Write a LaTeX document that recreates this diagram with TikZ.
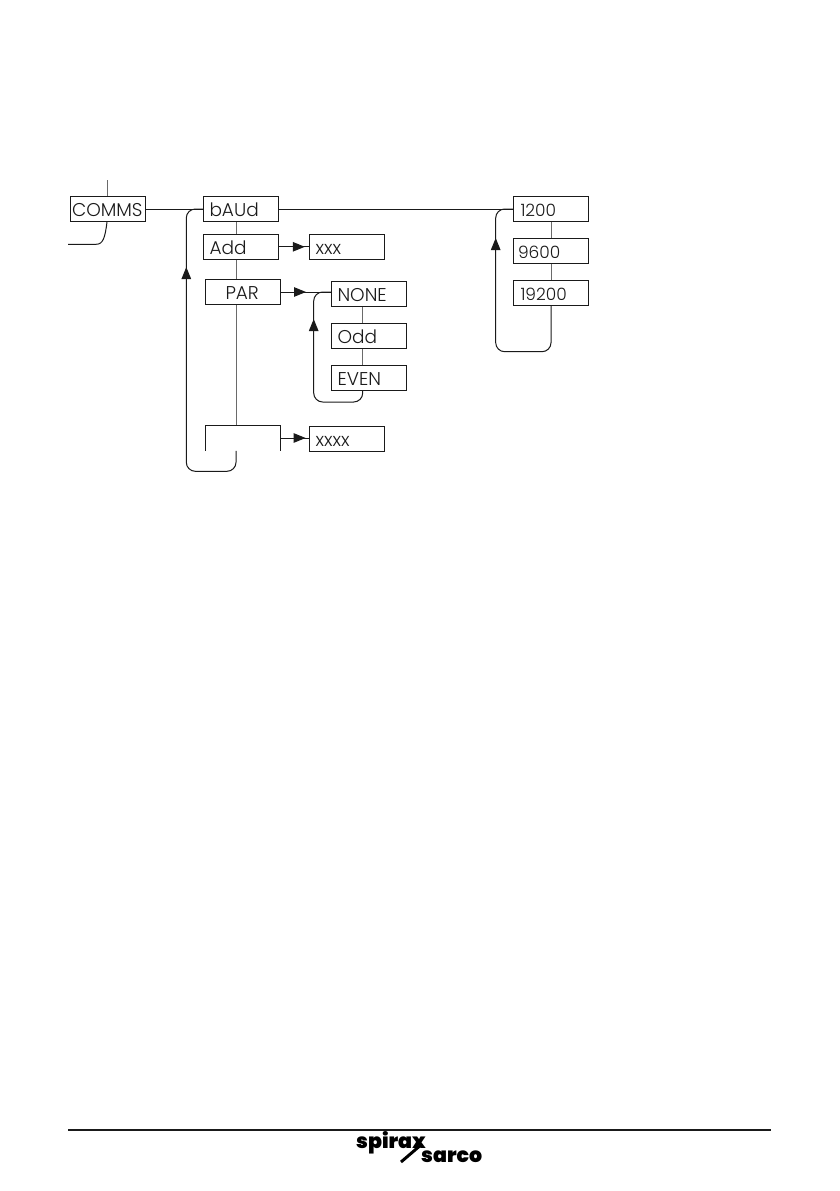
\documentclass[tikz,border=0pt]{standalone}
\usepackage{fontspec}
\setmainfont{Poppins}[UprightFont=* Light,BoldFont=* Black]
\usetikzlibrary{arrows.meta,decorations.markings}
\definecolor{ink}{HTML}{1A1A1A}
\newcommand{\digits}{\fontsize{17}{18}\selectfont}
\begin{document}
\begin{tikzpicture}[x=1pt, y=-1pt, font=\fontsize{18.5}{20}\selectfont, text=ink,
  box/.style={draw=ink, line width=1pt, minimum height=25pt, text width={75pt-2*#1}, inner xsep=#1,
              inner ysep=0pt, text height=15pt, text depth=0pt, align=left},
  box/.default=6pt,
  wire/.style={draw=ink, line width=1pt},
  link/.style={draw=ink!65, line width=1pt},
  loopback/.style={wire, rounded corners=9pt},
  tip/.style={postaction={decorate}, decoration={markings,
              mark=at position #1 with {\arrow{Triangle[length=12pt,width=9.5pt]}}}}]
\useasboundingbox (0,0) rectangle (839,1191);
% -- first column
\node[box=1.5pt] (comms) at (108,209) {COMMS};
\node[box] (baud) at (241,209) {bAUd};
\node[box] (add) at (241,246.8) {Add};
\node[box=20pt] (par) at (243,292) {PAR};
\node[minimum width=75.4pt, minimum height=25.4pt, inner sep=0pt] (blank) at (243,438) {};
\draw[wire] (blank.south west) |- (blank.north east) -- (blank.south east);
% -- values
\node[box] (xxx) at (347,246.8) {xxx};
\node[box] (xxxx) at (347,438.8) {xxxx};
\node[box] (none) at (369,294) {NONE};
\node[box] (odd) at (369,336) {Odd};
\node[box] (even) at (369,377.8) {EVEN};
\node[box=7pt, font=\digits] (b1200) at (551,209) {1200};
\node[box=4.5pt, font=\digits] (b9600) at (551,250.8) {9600};
\node[box=7pt, font=\digits] (b19200) at (551,292.8) {19200};
% -- links
\coordinate (up) at (107,180);
\coordinate (away) at (68,244.3);
\coordinate (stem) at (236,0);
\coordinate (stemb) at (362.7,0);
\draw[link] (up) -- (up |- comms.north);
\draw[wire] (comms.south -| up) .. controls (105,238) and (103,244.3) .. (96,244.3) -- (away);
\draw[wire] (comms) -- (baud);
\draw[wire] (baud) -- (b1200);
\foreach \a/\b in {baud/add,add/par,par/blank} \draw[link] (\a.south -| stem) -- (\b.north -| stem);
\foreach \a/\b in {none/odd,odd/even} \draw[link] (\a.south -| stemb) -- (\b.north -| stemb);
\foreach \a/\b in {b1200/b9600,b9600/b19200} \draw[link] (\a) -- (\b);
\draw[wire, tip=0.86] (add) -- (xxx);
\draw[wire, tip=0.5] (par.east) -- (par.east -| none.west);
\draw[wire, tip=0.88] (blank.east) -- (blank.east -| xxxx.west);
% -- loops back
\coordinate (outer) at (186.3,471.3);
\coordinate (inner) at (313.7,402);
\coordinate (right) at (495.7,351.7);
\draw[loopback, tip=0.79] (blank.south -| stem) |- (outer) |- (baud.west);
\draw[loopback, tip=0.77] (even.south -| stemb) |- (inner) |- (par.east -| none.west);
\draw[loopback, tip=0.83] (b19200.south) |- (right) |- (b1200.west);
% -- footer
\coordinate (ruleA) at (68,1130);
\coordinate (ruleB) at (771,1130);
\draw[draw=ink, line width=1.6pt] (ruleA) -- (ruleB);
\node[anchor=base west, inner sep=0pt, font=\fontsize{20.5}{22}\bfseries\selectfont, text=black] (spirax) at (356,1148.5) {spirax};
\node[anchor=base west, inner sep=0pt, font=\fontsize{20.5}{22}\bfseries\selectfont, text=black] (sarco) at (421,1162) {sarco};
\coordinate (slashA) at (401,1162);
\coordinate (slashB) at (422,1144);
\draw[draw=black, line width=3pt] (slashA) -- (slashB);
\end{tikzpicture}
\end{document}
